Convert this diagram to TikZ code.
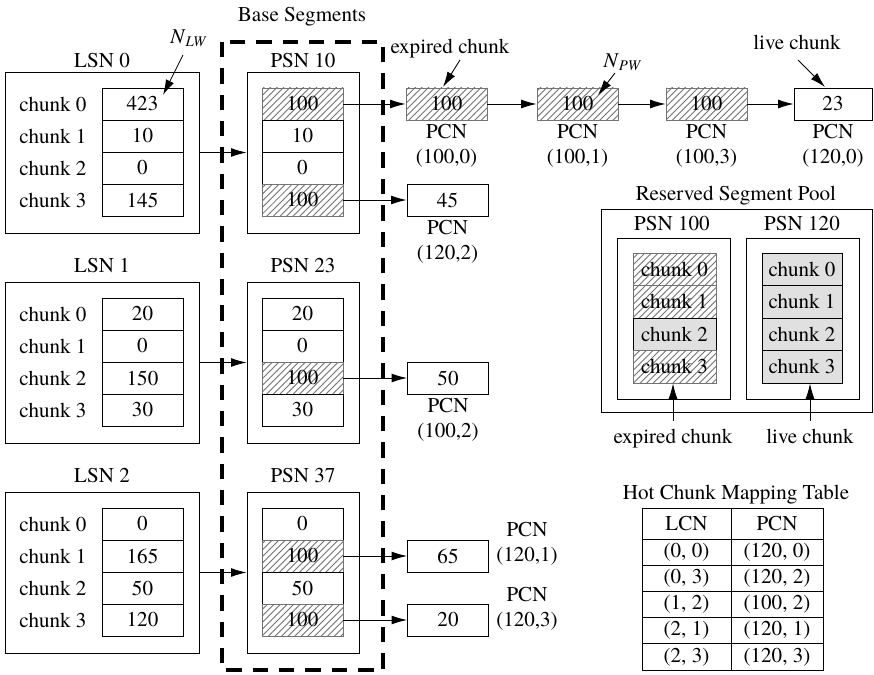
\documentclass[tikz,border=0pt]{standalone}
\usepackage{fontspec}
\setmainfont{TeX Gyre Termes}
\usetikzlibrary{arrows.meta, positioning, patterns}

\def\pxu{0.016cm}

\begin{document}
\begin{tikzpicture}[
    x=0.016cm, y=-0.016cm,
    every node/.style={align=center, font=\fontsize{9.6}{11.4}\selectfont},
    cell/.style={draw, minimum width=81*\pxu, minimum height=32*\pxu, inner sep=0pt},
    hatched/.style={cell, draw=black!55, pattern=north east lines, pattern color=black!55},
    grayed/.style={cell, fill=black!12},
    frame/.style={draw, inner sep=0pt},
    arrow/.style={-{Latex[length=7pt, width=4pt]}},
    basebox/.style={line width=1.4pt, dash pattern=on 7pt off 5pt}
  ]
  \useasboundingbox (0,0) rectangle (874,674);

  % Logical segments and their base segments
  \foreach \i/\psn/\ytop/\lb/\lvals/\pvals in {
      0/10/72/68/{423,10,0,145}/{100/hatched,10/cell,0/cell,100/hatched},
      1/23/282/272/{20,0,150,30}/{20/cell,0/cell,100/hatched,30/cell},
      2/37/492/482/{0,165,50,120}/{0/cell,100/hatched,50/cell,100/hatched}} {
    \node[frame, minimum width=194*\pxu, minimum height=161*\pxu] (lsn\i) at (102,\ytop+80.5) {};
    \node[frame, minimum width=112*\pxu, minimum height=161*\pxu] (psn\i) at (303,\ytop+80.5) {};
    \node[anchor=base] (lsnlbl\i) at (102,\lb) {LSN \i};
    \node[anchor=base] (psnlbl\i) at (303,\lb) {PSN \psn};
    \foreach \val [count=\row from 0] in \lvals {
      \node (lc\i-\row) at (53,\ytop+32+32*\row) {chunk \row};
      \node[cell] (l\i-\row) at (142.5,\ytop+32+32*\row) {\val};
    }
    \foreach \val/\st [count=\row from 0] in \pvals
      \node[\st] (p\i-\row) at (302.5,\ytop+32+32*\row) {\val};
    \draw[arrow] (lsn\i) -- (psn\i);
  }

  % Base segment area
  \node[anchor=base] (basetitle) at (302,22) {Base Segments};
  \draw[basebox] (222,42) rectangle (383,670);

  % Chunks written out of place
  \node[hatched] (e0) at (446.5,104) {100};
  \node[hatched] (e1) at (577.5,104) {100};
  \node[hatched] (e2) at (706.5,104) {100};
  \node[cell, minimum width=78*\pxu] (live) at (833,104) {23};
  \node[cell] (s45) at (447.5,200) {45};
  \node[cell] (s50) at (448,378) {50};
  \node[cell] (s65) at (448,556) {65};
  \node[cell] (s20) at (448,620) {20};

  \node[below=1.5pt of e0, inner sep=0pt] (e0lbl) {PCN\\(100,0)};
  \node[below=1.5pt of e1, inner sep=0pt] (e1lbl) {PCN\\(100,1)};
  \node[below=1.5pt of e2, inner sep=0pt] (e2lbl) {PCN\\(100,3)};
  \node[below=1.5pt of live, inner sep=0pt] (livelbl) {PCN\\(120,0)};
  \node[below=1.5pt of s45, inner sep=0pt] (s45lbl) {PCN\\(120,2)};
  \node[below=1.5pt of s50, inner sep=0pt] (s50lbl) {PCN\\(100,2)};
  \node[inner sep=0pt] (s65lbl) at (527,544) {PCN\\(120,1)};
  \node[inner sep=0pt] (s20lbl) at (527,609) {PCN\\(120,3)};

  \draw[arrow] (p0-0) -- (e0);
  \draw[arrow] (e0) -- (e1);
  \draw[arrow] (e1) -- (e2);
  \draw[arrow] (e2) -- (live);
  \draw[arrow] (p0-3) -- (s45);
  \draw[arrow] (p1-2) -- (s50);
  \draw[arrow] (p2-1) -- (s65);
  \draw[arrow] (p2-3) -- (s20);

  % Pointers
  \node (nlw) at (189,38) {\textit{N}\textsubscript{\textit{LW}}};
  \coordinate (nlwtail) at (183,55);
  \coordinate (nlwtip) at (163,95);
  \draw[arrow] (nlwtail) -- (nlwtip);
  \node (npw) at (623,62) {\textit{N}\textsubscript{\textit{PW}}};
  \coordinate (npwtail) at (615,73);
  \coordinate (npwtip) at (598,95);
  \draw[arrow] (npwtail) -- (npwtip);
  \node[anchor=base] (exptop) at (450,54) {expired chunk};
  \coordinate (exptail) at (460,60);
  \coordinate (exptip) at (443,87);
  \draw[arrow] (exptail) -- (exptip);
  \node[anchor=base] (livetop) at (797,50) {live chunk};
  \coordinate (livetail) at (798,60);
  \coordinate (livetip) at (825,87);
  \draw[arrow] (livetail) -- (livetip);

  % Reserved segment pool
  \node[anchor=base] (pooltitle) at (736,200) {Reserved Segment Pool};
  \node[frame, minimum width=271*\pxu, minimum height=203*\pxu] (pool) at (736.5,310.5) {};
  \node[frame, minimum width=113*\pxu, minimum height=161*\pxu] (q0) at (673.5,318.5) {};
  \node[frame, minimum width=113*\pxu, minimum height=161*\pxu] (q1) at (802.5,318.5) {};
  \node[anchor=base] (q0lbl) at (672,230) {PSN 100};
  \node[anchor=base] (q1lbl) at (802,230) {PSN 120};
  \foreach \st [count=\row from 0] in {hatched,hatched,grayed,hatched}
    \node[\st, minimum width=83*\pxu, minimum height=32.5*\pxu] (q0-\row) at (674.5,269.25+32.5*\row) {chunk \row};
  \foreach \row in {0,...,3}
    \node[grayed, minimum width=80*\pxu, minimum height=32.5*\pxu] (q1-\row) at (802,269.25+32.5*\row) {chunk \row};

  \node[anchor=base] (explbl) at (673,443) {expired chunk};
  \node[anchor=base] (livelbl2) at (810,443) {live chunk};
  \draw[arrow] (explbl) -- (explbl |- q0-3.south);
  \draw[arrow] (livelbl2) -- (livelbl2 |- q1-3.south);

  % Hot chunk mapping table
  \node[anchor=base] (tabtitle) at (736,499) {Hot Chunk Mapping Table};
  \node[draw, minimum width=89*\pxu, minimum height=31*\pxu, inner sep=0pt] (t0-l) at (686.5,523.5) {LCN};
  \node[draw, minimum width=92*\pxu, minimum height=31*\pxu, inner sep=0pt] (t0-p) at (777,523.5) {PCN};
  \foreach \lcn/\pcn [count=\row] in {{(0, 0)}/{(120, 0)}, {(0, 3)}/{(120, 2)},
      {(1, 2)}/{(100, 2)}, {(2, 1)}/{(120, 1)}, {(2, 3)}/{(120, 3)}} {
    \node[draw, minimum width=89*\pxu, minimum height=26.2*\pxu, inner sep=0pt] (t\row-l) at (686.5,525.9+26.2*\row) {\lcn};
    \node[draw, minimum width=92*\pxu, minimum height=26.2*\pxu, inner sep=0pt] (t\row-p) at (777,525.9+26.2*\row) {\pcn};
  }
\end{tikzpicture}
\end{document}
